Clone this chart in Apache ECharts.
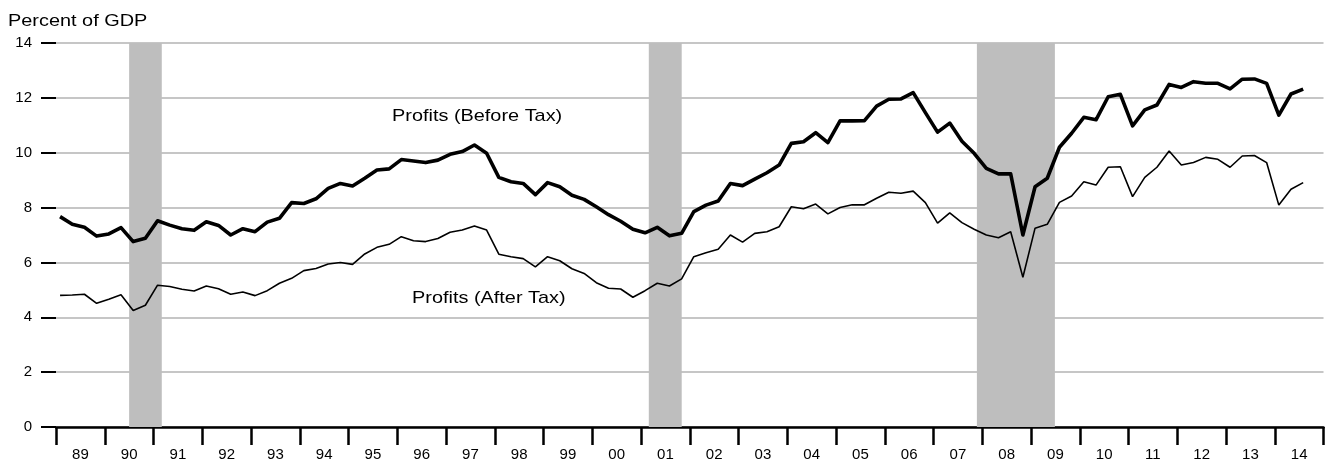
<!DOCTYPE html>
<html>
<head>
<meta charset="utf-8">
<script src="https://cdn.jsdelivr.net/npm/echarts@6/dist/echarts.min.js"></script>
<style>
  html, body { margin: 0; padding: 0; background: #ffffff; }
  #chart { width: 1325px; height: 462px; }
</style>
</head>
<body>
<div id="chart"></div>
<script>
// Corporate profits as a share of GDP, quarterly, 1989 Q1 - 2014 Q3
const firstYear = 1989;
const yearLabels = ['89','90','91','92','93','94','95','96','97','98','99','00','01',
                    '02','03','04','05','06','07','08','09','10','11','12','13','14'];

const beforeTax = [
  7.67, 7.39, 7.28, 6.96,   // 1989
  7.04, 7.27, 6.76, 6.88,   // 1990
  7.52, 7.36, 7.23, 7.17,   // 1991
  7.48, 7.35, 7.00, 7.23,   // 1992
  7.12, 7.47, 7.61, 8.18,   // 1993
  8.15, 8.32, 8.70, 8.88,   // 1994
  8.79, 9.07, 9.37, 9.41,   // 1995
  9.75, 9.70, 9.64, 9.73,   // 1996
  9.94, 10.04, 10.28, 9.98, // 1997
  9.10, 8.94, 8.88, 8.47,   // 1998
  8.91, 8.76, 8.45, 8.30,   // 1999
  8.03, 7.74, 7.50, 7.21,   // 2000
  7.08, 7.28, 6.97, 7.06,   // 2001
  7.85, 8.09, 8.24, 8.88,   // 2002
  8.80, 9.04, 9.27, 9.55,   // 2003
  10.34, 10.40, 10.73, 10.37, // 2004
  11.16, 11.16, 11.17, 11.70, // 2005
  11.95, 11.96, 12.19, 11.46, // 2006
  10.75, 11.08, 10.42, 9.98,  // 2007
  9.43, 9.23, 9.23, 7.00,     // 2008
  8.76, 9.07, 10.20, 10.71,   // 2009
  11.29, 11.20, 12.04, 12.13, // 2010
  10.98, 11.56, 11.74, 12.49, // 2011
  12.38, 12.59, 12.53, 12.53, // 2012
  12.33, 12.68, 12.69, 12.53, // 2013
  11.37, 12.14, 12.32         // 2014
];

const afterTax = [
  4.80, 4.81, 4.84, 4.51,   // 1989
  4.66, 4.82, 4.25, 4.44,   // 1990
  5.17, 5.12, 5.02, 4.96,   // 1991
  5.14, 5.04, 4.84, 4.92,   // 1992
  4.79, 4.97, 5.24, 5.42,   // 1993
  5.70, 5.78, 5.94, 6.00,   // 1994
  5.93, 6.31, 6.55, 6.66,   // 1995
  6.94, 6.79, 6.76, 6.87,   // 1996
  7.10, 7.18, 7.33, 7.18,   // 1997
  6.30, 6.21, 6.14, 5.84,   // 1998
  6.21, 6.06, 5.77, 5.60,   // 1999
  5.26, 5.06, 5.03, 4.73,   // 2000
  4.97, 5.24, 5.14, 5.40,   // 2001
  6.21, 6.35, 6.48, 7.00,   // 2002
  6.74, 7.06, 7.12, 7.30,   // 2003
  8.03, 7.96, 8.13, 7.77,   // 2004
  8.00, 8.10, 8.10, 8.34,   // 2005
  8.56, 8.52, 8.60, 8.18,   // 2006
  7.43, 7.81, 7.45, 7.21,   // 2007
  7.00, 6.90, 7.12, 5.46,   // 2008
  7.25, 7.39, 8.19, 8.42,   // 2009
  8.94, 8.82, 9.47, 9.49,   // 2010
  8.40, 9.10, 9.47, 10.06,  // 2011
  9.55, 9.64, 9.83, 9.76,   // 2012
  9.47, 9.88, 9.90, 9.64,   // 2013
  8.09, 8.67, 8.91          // 2014
];

// Recession periods (peak -> trough), in decimal years
const recessions = [
  [1990.50, 1991.17],
  [2001.16, 2001.835],
  [2007.89, 2009.49]
];

const textFont = '"Liberation Sans", Arial, Helvetica, sans-serif';

// Each quarter is placed at its middle month
function quarterX(i) {
  return firstYear + Math.floor(i / 4) + (i % 4) / 4 + 1 / 12;
}
const toPoints = arr => arr.map((v, i) => [quarterX(i), v]);

const chart = echarts.init(document.getElementById('chart'), null, { renderer: 'canvas' });

chart.setOption({
  animation: false,
  backgroundColor: '#ffffff',
  grid: { left: 56, right: 1.5, top: 43, bottom: 35, containLabel: false },
  xAxis: [
    {
      type: 'value',
      min: firstYear,
      max: firstYear + yearLabels.length,
      interval: 1,
      axisLine: { show: true, lineStyle: { color: '#000000', width: 2.5 } },
      axisTick: { show: true, length: 18, lineStyle: { color: '#000000', width: 2.5 } },
      axisLabel: { show: false },
      splitLine: { show: false }
    },
    {
      type: 'category',
      data: yearLabels,
      position: 'bottom',
      boundaryGap: true,
      axisLine: { show: false },
      axisTick: { show: false },
      splitLine: { show: false },
      axisLabel: {
        margin: 20,
        fontSize: 15,
        fontFamily: textFont,
        color: '#000000'
      }
    }
  ],
  yAxis: {
    type: 'value',
    min: 0,
    max: 14,
    interval: 2,
    axisLine: { show: false },
    axisTick: { show: true, length: 15, lineStyle: { color: '#000000', width: 2 } },
    axisLabel: { margin: 24, fontSize: 15, fontFamily: textFont, color: '#000000' },
    splitLine: { show: true, lineStyle: { color: '#c6c6c6', width: 2 } }
  },
  series: [
    {
      name: 'Profits (After Tax)',
      type: 'line',
      xAxisIndex: 0,
      data: toPoints(afterTax),
      symbol: 'none',
      z: 3,
      lineStyle: { color: '#000000', width: 1.6 },
      markArea: {
        silent: true,
        itemStyle: { color: '#bebebe', opacity: 1 },
        data: recessions.map(r => [{ xAxis: r[0] }, { xAxis: r[1] }])
      }
    },
    {
      name: 'Profits (Before Tax)',
      type: 'line',
      xAxisIndex: 0,
      data: toPoints(beforeTax),
      symbol: 'none',
      z: 4,
      lineStyle: { color: '#000000', width: 3.6, join: 'round' }
    }
  ],
  graphic: [
    {
      type: 'text', x: 8, y: 21, scaleX: 1.17,
      style: { text: 'Percent of GDP', fontSize: 17, fontFamily: textFont, fill: '#000000', verticalAlign: 'middle' }
    },
    {
      type: 'text', x: 392, y: 116, scaleX: 1.17, z: 10,
      style: { text: 'Profits (Before Tax)', fontSize: 17, fontFamily: textFont, fill: '#000000', verticalAlign: 'middle' }
    },
    {
      type: 'text', x: 412, y: 298.5, scaleX: 1.17, z: 10,
      style: { text: 'Profits (After Tax)', fontSize: 17, fontFamily: textFont, fill: '#000000', verticalAlign: 'middle' }
    }
  ]
});
</script>
</body>
</html>
